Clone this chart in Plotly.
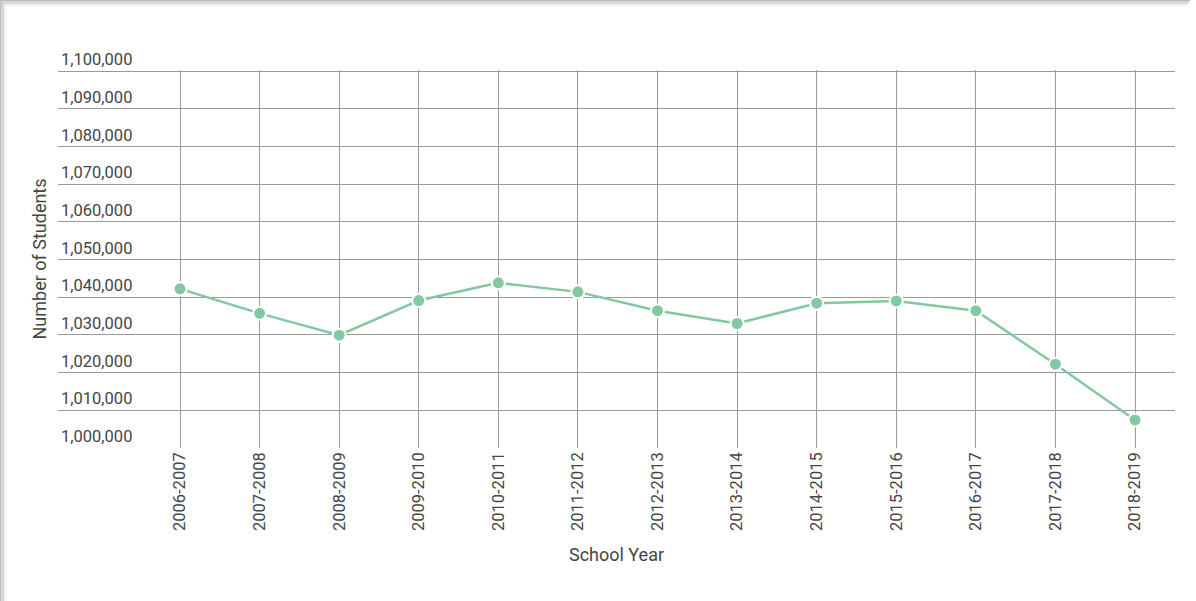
import plotly.graph_objects as go

years = ["2006-2007", "2007-2008", "2008-2009", "2009-2010", "2010-2011", "2011-2012",
         "2012-2013", "2013-2014", "2014-2015", "2015-2016", "2016-2017", "2017-2018", "2018-2019"]
students = [1042200, 1035700, 1029900, 1039100, 1043800, 1041400,
            1036400, 1033000, 1038400, 1039000, 1036400, 1022200, 1007400]
y_ticks = [1000000 + 10000 * i for i in range(11)]

W, H = 1196, 601
L, R, T, B = 58, 1175, 70, 448
pw, ph = R - L, B - T

def px(p):
    return (p - L) / pw

def py(p):
    return (B - p) / ph

fig = go.Figure()
fig.add_trace(go.Scatter(
    x=years, y=students, mode="lines+markers",
    line=dict(color="#82c9a1", width=2.5),
    marker=dict(size=13, color="#82c9a1", line=dict(color="white", width=2)),
    cliponaxis=False, showlegend=False,
))

font = dict(family="Roboto, sans-serif", size=16.5, color="#454545")
tfont = dict(family="Roboto, sans-serif", size=18, color="#454545")
step = (1135 - 180) / 12
fig.update_layout(
    width=W, height=H,
    margin=dict(l=L, r=W - R, t=T, b=H - B),
    paper_bgcolor="white", plot_bgcolor="white",
    font=font,
    xaxis=dict(
        type="category", range=[(L - 180) / step, (R - 180) / step],
        showgrid=True, gridcolor="#9a9a9a", gridwidth=1, automargin=False,
        tickangle=-90, tickfont=font, zeroline=False, showline=False,
        ticks="", ticklen=0,
        title=dict(text="School Year", font=tfont, standoff=18),
    ),
    yaxis=dict(
        range=[999950, 1100300], tickvals=y_ticks, tickformat=",d",
        showgrid=True, gridcolor="#9a9a9a", gridwidth=1, automargin=False,
        ticklabelposition="inside top", ticklabeloverflow="allow",
        tickfont=font, zeroline=False, showline=False,
        title=dict(text="Number of Students", font=tfont, standoff=9),
    ),
)

# card shadow frame
shades = ["#bdbdbd", "#cacaca", "#dadada", "#ebebeb", "#f7f7f7"]
for i, c in enumerate(shades):
    fig.add_shape(type="rect", xref="paper", yref="paper", layer="below",
                  x0=px(i * 1.4), x1=px(1190 - i), y0=py(i * 1.4), y1=py((i + 1) * 1.4),
                  line=dict(width=0), fillcolor=c)
    fig.add_shape(type="rect", xref="paper", yref="paper", layer="below",
                  x0=px(i * 1.4), x1=px((i + 1) * 1.4), y0=py(i * 1.4), y1=py(H),
                  line=dict(width=0), fillcolor=c)

fig.write_html("out.html", config={"displayModeBar": False},
               post_script="document.body.style.margin='0';")
